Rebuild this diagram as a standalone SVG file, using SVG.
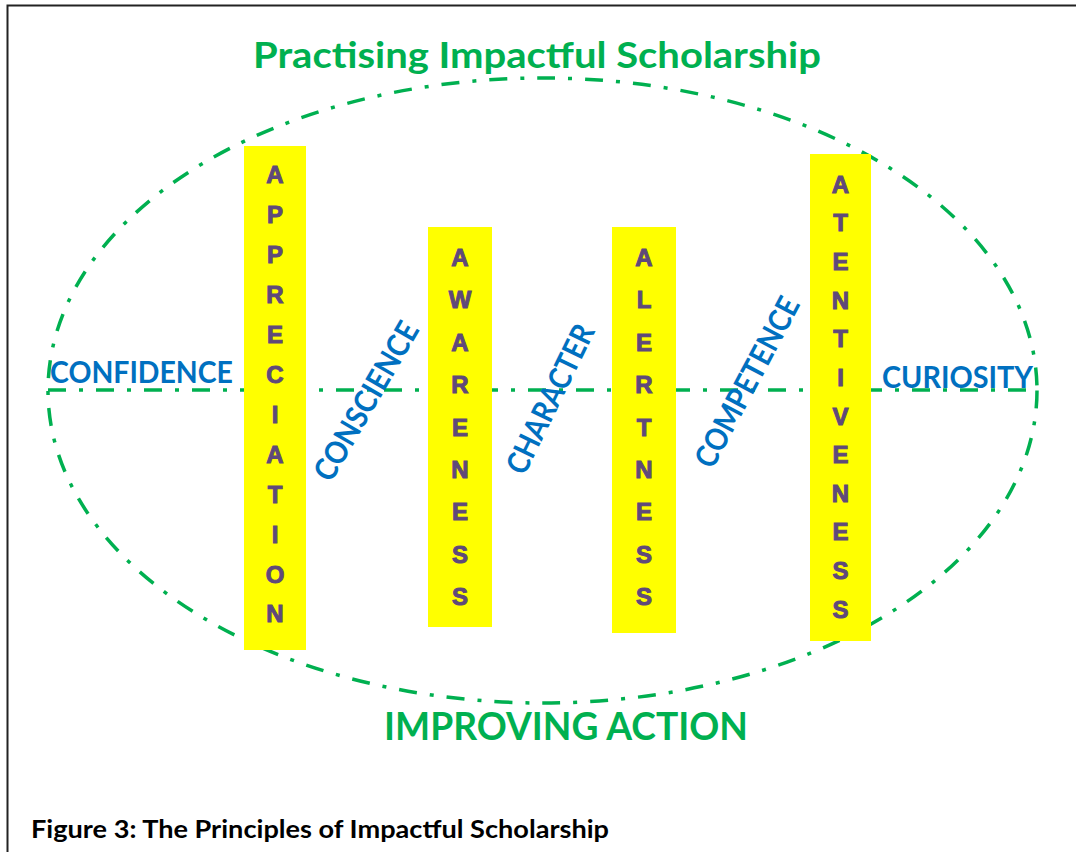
<svg xmlns="http://www.w3.org/2000/svg" width="1076" height="852" viewBox="0 0 1076 852">
<style>
.frame{fill:none;stroke:#222;stroke-width:2}
.dd{fill:none;stroke:#00B050;stroke-width:3.5;stroke-dasharray:18 13 4 13}
.col{fill:#FFFF00}
.lt{font-family:"Liberation Sans",Arial,sans-serif;font-weight:bold;font-size:24px;fill:#5F497A;stroke:#5F497A;stroke-width:1;text-anchor:middle}
.bl{font-family:Lato,"Open Sans",sans-serif;font-weight:bold;font-size:31px;fill:#0070C0}
.gr{font-family:Lato,"Open Sans",sans-serif;font-weight:bold;fill:#00B050}
.cap{font-family:Lato,"Open Sans",sans-serif;font-weight:bold;font-size:24px;fill:#000}
</style>
<rect width="1076" height="852" fill="#fff"/>
<path class="frame" d="M7.5,852 V5.5 H1076"/>
<g id="connectors">
<ellipse class="dd" cx="542.5" cy="390.5" rx="494.5" ry="312.5"/>
<line class="dd" x1="48" y1="390" x2="1037" y2="390"/>
</g>
<g id="title"><text class="gr" x="253" y="68" font-size="36" textLength="568" lengthAdjust="spacingAndGlyphs">Practising Impactful Scholarship</text></g>
<g id="bottom"><text class="gr" x="384" y="740" font-size="38" textLength="364" lengthAdjust="spacingAndGlyphs">IMPROVING ACTION</text></g>
<g id="appreciation">
<rect class="col" x="244" y="146" width="62" height="504"/>
<text class="lt" x="275" y="183">A</text><text class="lt" x="275" y="223">P</text><text class="lt" x="275" y="263">P</text><text class="lt" x="275" y="303">R</text><text class="lt" x="275" y="343">E</text><text class="lt" x="275" y="383">C</text><text class="lt" x="275" y="423">I</text><text class="lt" x="275" y="463">A</text><text class="lt" x="275" y="503">T</text><text class="lt" x="275" y="543">I</text><text class="lt" x="275" y="583">O</text><text class="lt" x="275" y="622">N</text>
</g>
<g id="awareness">
<rect class="col" x="428" y="227" width="64" height="400"/>
<text class="lt" x="460" y="266">A</text><text class="lt" x="460" y="308">W</text><text class="lt" x="460" y="351">A</text><text class="lt" x="460" y="393">R</text><text class="lt" x="460" y="436">E</text><text class="lt" x="460" y="478">N</text><text class="lt" x="460" y="520">E</text><text class="lt" x="460" y="563">S</text><text class="lt" x="460" y="605">S</text>
</g>
<g id="alertness">
<rect class="col" x="612" y="227" width="64" height="406"/>
<text class="lt" x="644" y="266">A</text><text class="lt" x="644" y="308">L</text><text class="lt" x="644" y="351">E</text><text class="lt" x="644" y="393">R</text><text class="lt" x="644" y="436">T</text><text class="lt" x="644" y="478">N</text><text class="lt" x="644" y="520">E</text><text class="lt" x="644" y="563">S</text><text class="lt" x="644" y="605">S</text>
</g>
<g id="attentiveness">
<rect class="col" x="810" y="154" width="61" height="487"/>
<text class="lt" x="840.5" y="193">A</text><text class="lt" x="840.5" y="231">T</text><text class="lt" x="840.5" y="270">E</text><text class="lt" x="840.5" y="309">N</text><text class="lt" x="840.5" y="347">T</text><text class="lt" x="840.5" y="386">I</text><text class="lt" x="840.5" y="425">V</text><text class="lt" x="840.5" y="463">E</text><text class="lt" x="840.5" y="502">N</text><text class="lt" x="840.5" y="540">E</text><text class="lt" x="840.5" y="579">S</text><text class="lt" x="840.5" y="618">S</text>
</g>
<g id="confidence"><text class="bl" x="50" y="383" textLength="183" lengthAdjust="spacingAndGlyphs">CONFIDENCE</text></g>
<g id="curiosity"><text class="bl" x="882" y="388" textLength="151" lengthAdjust="spacingAndGlyphs">CURIOSITY</text></g>
<g id="conscience"><text class="bl" transform="translate(366,401) rotate(-60)" x="0" y="11" text-anchor="middle" textLength="178" lengthAdjust="spacingAndGlyphs">CONSCIENCE</text></g>
<g id="character"><text class="bl" transform="translate(550,399) rotate(-64)" x="0" y="11" text-anchor="middle" textLength="162" lengthAdjust="spacingAndGlyphs">CHARACTER</text></g>
<g id="competence"><text class="bl" transform="translate(747,382) rotate(-62)" x="0" y="11" text-anchor="middle" textLength="188" lengthAdjust="spacingAndGlyphs">COMPETENCE</text></g>
<g id="caption"><text class="cap" x="31" y="838" textLength="578" lengthAdjust="spacingAndGlyphs">Figure 3: The Principles of Impactful Scholarship</text></g>
</svg>
